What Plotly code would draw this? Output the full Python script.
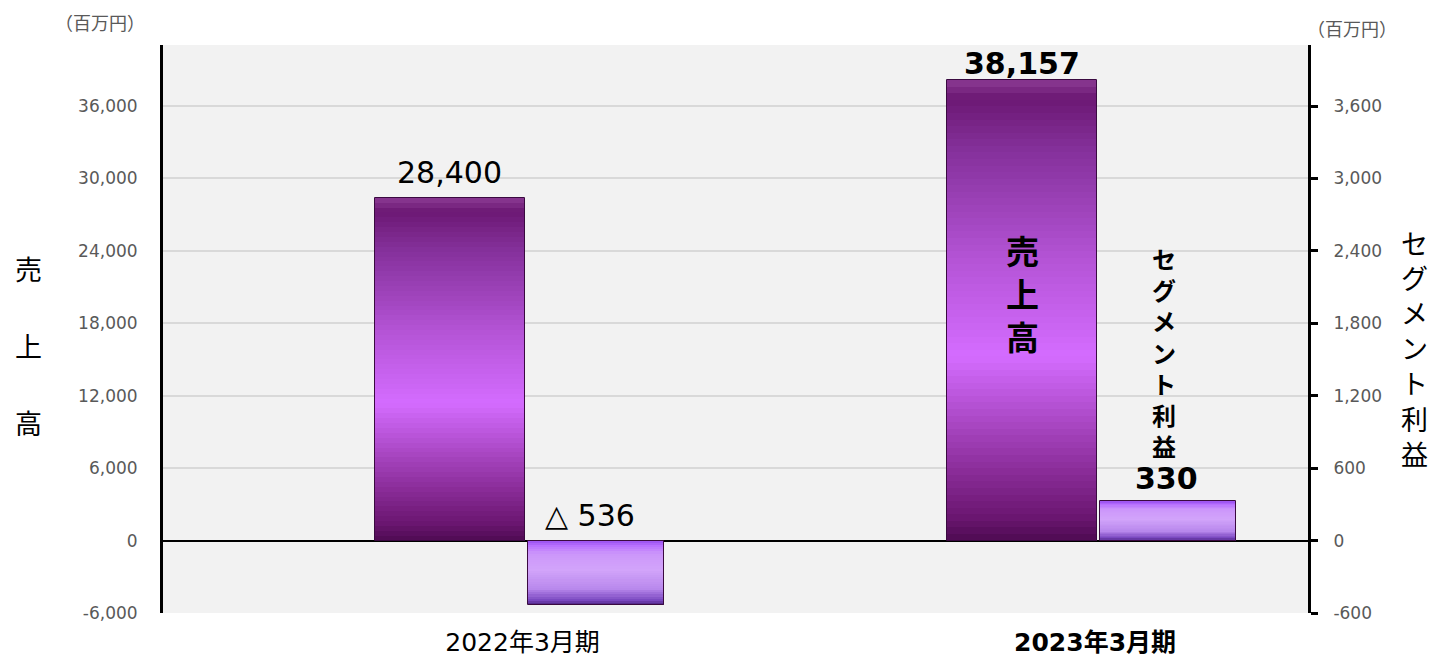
import plotly.graph_objects as go

# ---- data ----
categories = ["2022年3月期", "2023年3月期"]
sales = [28400, 38157]          # 売上高 (百万円), left axis
segment_profit = [-536, 330]    # セグメント利益 (百万円), right axis
sales_labels = ["28,400", "38,157"]
profit_labels = ["△ 536", "330"]
left_ticks = [-6000, 0, 6000, 12000, 18000, 24000, 30000, 36000]
left_ticktext = ["-6,000", "0", "6,000", "12,000", "18,000", "24,000", "30,000", "36,000"]
right_ticks = [-600, 0, 600, 1200, 1800, 2400, 3000, 3600]
right_ticktext = ["-600", "0", "600", "1,200", "1,800", "2,400", "3,000", "3,600"]

# ---- layout constants ----
L_RANGE = [-6000, 41060]
R_RANGE = [-600, 4106]
group_centers = [i + 0.628 for i in range(len(categories))]
SALES_OFF, SALES_W = -0.127, 0.262
PROF_OFF, PROF_W = 0.128, 0.238
TICK_GRAY = "#595959"
NUMFONT = "DejaVu Sans, Noto Sans CJK JP"
CJK = "Noto Sans CJK JP, DejaVu Sans"


def hex2rgb(h):
    h = h.lstrip("#")
    return tuple(int(h[i:i + 2], 16) for i in (0, 2, 4))


def grad(stops, t):
    for (t0, c0), (t1, c1) in zip(stops, stops[1:]):
        if t0 <= t <= t1:
            f = 0 if t1 == t0 else (t - t0) / (t1 - t0)
            a, b = hex2rgb(c0), hex2rgb(c1)
            return "rgb(%d,%d,%d)" % tuple(round(a[k] + (b[k] - a[k]) * f) for k in range(3))
    return stops[-1][1]


# t = 0 at visual bottom, 1 at visual top
sales_stops = [(0.0, "#4e0a52"), (0.05, "#6a1670"), (0.15, "#8a2c98"),
               (0.40, "#d46cff"), (0.60, "#b655d8"), (0.85, "#84309a"),
               (0.96, "#6c1874"), (1.0, "#8a3a92")]
prof_stops = [(0.0, "#4c2480"), (0.08, "#7a48c0"), (0.25, "#b888ec"),
              (0.55, "#d2a4fa"), (0.80, "#cc96fa"), (0.92, "#b870ff"),
              (1.0, "#9a50f0")]

fig = go.Figure()


def add_gradient_bars(values, xs, width, stops, yaxis, n):
    lo = [min(0, v) for v in values]
    hi = [max(0, v) for v in values]
    for i in range(n):
        t = (i + 0.5) / n
        base = [l + (h - l) * i / n for l, h in zip(lo, hi)]
        k = 1.0 if i == n - 1 else 1.04
        hgt = [(h - l) / n * k for l, h in zip(lo, hi)]
        fig.add_trace(go.Bar(
            x=xs, y=hgt, base=base, width=width, yaxis=yaxis,
            marker=dict(color=grad(stops, t), line=dict(width=0)),
            hoverinfo="skip", showlegend=False))
    fig.add_trace(go.Bar(
        x=xs, y=[h - l for l, h in zip(lo, hi)], base=lo, width=width, yaxis=yaxis,
        marker=dict(color="rgba(0,0,0,0)", line=dict(width=1, color="#3a0a40")),
        hoverinfo="skip", showlegend=False))


sales_x = [g + SALES_OFF for g in group_centers]
prof_x = [g + PROF_OFF for g in group_centers]
add_gradient_bars(sales, sales_x, SALES_W, sales_stops, "y", 70)
add_gradient_bars(segment_profit, prof_x, PROF_W, prof_stops, "y2", 30)


def A(**kw):
    d = dict(showarrow=False, xanchor="center", yanchor="middle")
    d.update(kw)
    return d


def py(px):
    return (613 - px) / 568


def pxx(px):
    return (px - 163) / 1145


ann = []
ann.append(A(x=sales_x[0], y=sales[0], xref="x", yref="y", text=sales_labels[0],
             yanchor="bottom", yshift=6,
             font=dict(size=30, color="black", family=NUMFONT)))
ann.append(A(x=sales_x[1], y=sales[1], xref="x", yref="y", text="<b>" + sales_labels[1] + "</b>",
             yanchor="bottom", yshift=-3,
             font=dict(size=30, color="black", family=NUMFONT)))
ann.append(A(x=prof_x[0] - 0.01, y=0, xref="x", yref="y2", text=profit_labels[0],
             yanchor="bottom", yshift=6,
             font=dict(size=30, color="black", family=NUMFONT)))
ann.append(A(x=prof_x[1] - 0.003, y=segment_profit[1], xref="x", yref="y2",
             text="<b>" + profit_labels[1] + "</b>", yanchor="bottom", yshift=3,
             font=dict(size=30, color="black", family=NUMFONT)))
ann.append(A(x=sales_x[1], y=py(293), xref="x", yref="paper",
             text="<b>売<br>上<br>高</b>",
             font=dict(size=33, color="black", family=CJK)))
ann.append(A(x=prof_x[1] - 0.007, y=py(352), xref="x", yref="paper",
             text="<b>セ<br>グ<br>メ<br>ン<br>ト<br>利<br>益</b>",
             font=dict(size=24, color="black", family=CJK)))
for ch, ypx in zip("売上高", [268, 345, 422]):
    ann.append(A(x=pxx(28), y=py(ypx), xref="paper", yref="paper", text=ch,
                 font=dict(size=27, color="black", family=CJK)))
ann.append(A(x=pxx(1414), y=py(348), xref="paper", yref="paper",
             text="セ<br>グ<br>メ<br>ン<br>ト<br>利<br>益",
             font=dict(size=27, color="black", family=CJK)))
ann.append(A(x=pxx(100), y=py(22), xref="paper", yref="paper", text="（百万円）",
             font=dict(size=18, color=TICK_GRAY, family=CJK)))
ann.append(A(x=pxx(1352), y=py(28), xref="paper", yref="paper", text="（百万円）",
             font=dict(size=18, color=TICK_GRAY, family=CJK)))

ticktext = [categories[0], "<b>" + categories[1] + "</b>"]

fig.update_layout(
    width=1430, height=658,
    margin=dict(l=163, r=122, t=45, b=45, autoexpand=False),
    paper_bgcolor="white", plot_bgcolor="#f2f2f2",
    barmode="overlay", bargap=0,
    showlegend=False,
    annotations=ann,
    xaxis=dict(range=[0, 2], tickvals=group_centers, ticktext=ticktext,
               showgrid=False, zeroline=False, showline=False, ticks="",
               tickfont=dict(size=25, color="black", family=NUMFONT),
               ticklabelstandoff=12, fixedrange=True),
    yaxis=dict(range=L_RANGE, tickvals=left_ticks, ticktext=left_ticktext,
               showgrid=True, gridcolor="#d9d9d9", gridwidth=2,
               zeroline=True, zerolinecolor="black", zerolinewidth=2,
               showline=True, linecolor="black", linewidth=3, ticks="",
               tickfont=dict(size=17, color=TICK_GRAY, family=NUMFONT),
               ticklabelstandoff=19),
    yaxis2=dict(range=R_RANGE, tickvals=right_ticks, ticktext=right_ticktext,
                overlaying="y", side="right", showgrid=False, zeroline=False,
                showline=True, linecolor="black", linewidth=3,
                ticks="outside", ticklen=7, tickwidth=3, tickcolor="black",
                tickfont=dict(size=17, color=TICK_GRAY, family=NUMFONT),
                ticklabelstandoff=12),
)

fig.write_html("out.html", config={"displayModeBar": False},
               post_script="document.body.style.margin='0';document.body.style.overflow='hidden';")
